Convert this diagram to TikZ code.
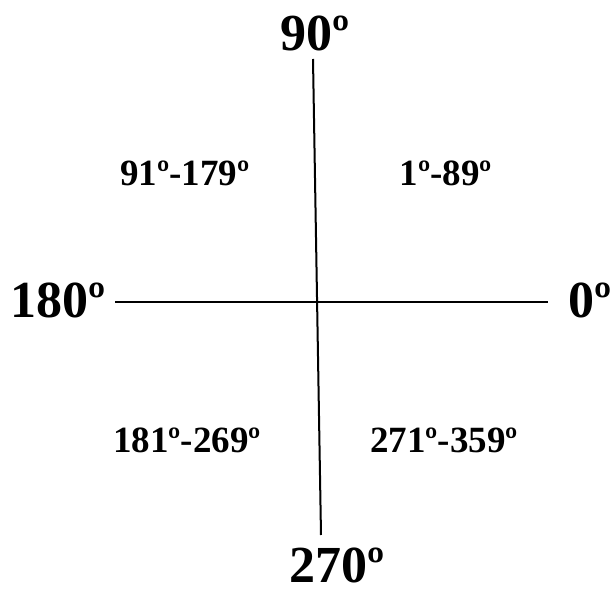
\documentclass[tikz,border=0pt]{standalone}
\usepackage{fontspec}
\setmainfont{Liberation Serif}
\begin{document}
\begin{tikzpicture}[x=1pt,y=-1pt,
  big/.style={inner sep=0pt,font=\bfseries\fontsize{52}{52}\selectfont},
  small/.style={inner sep=0pt,font=\bfseries\fontsize{37}{37}\selectfont},
  axis/.style={line width=2pt}]
\useasboundingbox (0,0) rectangle (614,596);
\coordinate (vtop) at (313,59);
\coordinate (vbot) at (321,535);
\coordinate (hl) at (115,302);
\coordinate (hr) at (548,302);
\draw[axis] (vtop) -- (vbot);
\draw[axis] (hl) -- (hr);
\node[big] (n90) at (315,33) {90º};
\node[big] (n180) at (58,300) {180º};
\node[big,anchor=east] (n0) at (612,300) {0º};
\node[big] (n270) at (337,565) {270º};
\node[small] (q1) at (446,173) {1º-89º};
\node[small] (q2) at (185,173) {91º-179º};
\node[small] (q3) at (187,440) {181º-269º};
\node[small] (q4) at (444,440) {271º-359º};
\end{tikzpicture}
\end{document}
